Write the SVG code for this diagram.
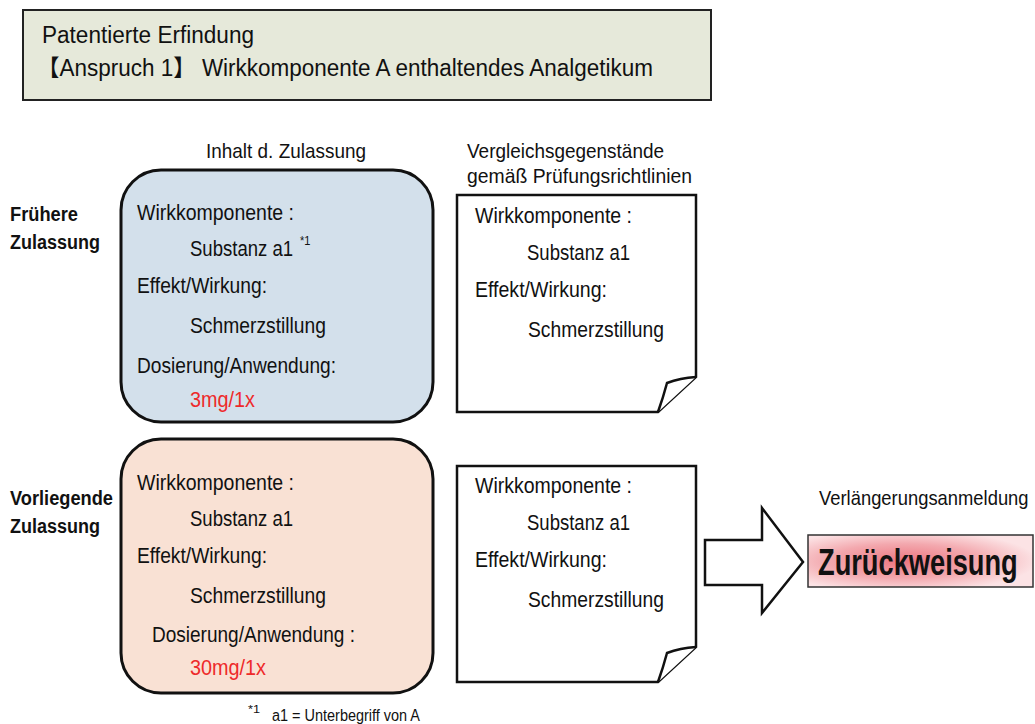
<svg xmlns="http://www.w3.org/2000/svg" width="1035" height="724" viewBox="0 0 1035 724">
<style>
text{font-family:"Liberation Sans","Noto Sans CJK JP",sans-serif;fill:#111;}
.t{font-size:22.5px;}
.h{font-size:21px;}
.b{font-size:20px;font-weight:bold;}
.red{fill:#ee2a2a;}
.box{stroke:#111;stroke-width:3;}
.doc{fill:#fff;stroke:#111;stroke-width:2.5;stroke-linejoin:miter;}
</style>
<defs>
<radialGradient id="rg" cx="0.42" cy="0.5" r="0.6">
<stop offset="0" stop-color="#ec7680"/>
<stop offset="0.55" stop-color="#f3a8ae"/>
<stop offset="1" stop-color="#fce3e5"/>
</radialGradient>
</defs>
<g id="title">
<rect x="23" y="10" width="688" height="90" fill="#e6e9da" stroke="#222" stroke-width="2"/>
<text x="42" y="43" font-size="23" textLength="212" lengthAdjust="spacingAndGlyphs">Patentierte Erfindung</text>
<text x="37" y="76" font-size="23" textLength="616" lengthAdjust="spacingAndGlyphs">【Anspruch 1】 Wirkkomponente A enthaltendes Analgetikum</text>
</g>
<g id="headers">
<text class="h" x="206" y="158" textLength="160" lengthAdjust="spacingAndGlyphs">Inhalt d. Zulassung</text>
<text class="h" x="467" y="158" textLength="197" lengthAdjust="spacingAndGlyphs">Vergleichsgegenstände</text>
<text class="h" x="467" y="183" textLength="225" lengthAdjust="spacingAndGlyphs">gemäß Prüfungsrichtlinien</text>
</g>
<g id="row-labels">
<text class="b" x="10" y="221" textLength="68" lengthAdjust="spacingAndGlyphs">Frühere</text>
<text class="b" x="10" y="249" textLength="90" lengthAdjust="spacingAndGlyphs">Zulassung</text>
<text class="b" x="10" y="505" textLength="103" lengthAdjust="spacingAndGlyphs">Vorliegende</text>
<text class="b" x="10" y="533" textLength="90" lengthAdjust="spacingAndGlyphs">Zulassung</text>
</g>
<g id="prior-approval">
<rect class="box" x="121" y="170" width="312" height="252" rx="40" fill="#d3e0eb"/>
<text class="t" x="137" y="220" textLength="157" lengthAdjust="spacingAndGlyphs">Wirkkomponente :</text>
<text class="t" transform="translate(190,256) scale(0.824,1)" x="0" y="0">Substanz a1</text>
<text transform="translate(300,245) scale(0.85,1)" x="0" y="0" font-size="13">*1</text>
<text class="t" x="137" y="293" textLength="130" lengthAdjust="spacingAndGlyphs">Effekt/Wirkung:</text>
<text class="t" x="190" y="333" textLength="136" lengthAdjust="spacingAndGlyphs">Schmerzstillung</text>
<text class="t" x="137" y="373" textLength="199" lengthAdjust="spacingAndGlyphs">Dosierung/Anwendung:</text>
<text class="t red" x="190" y="407" textLength="65" lengthAdjust="spacingAndGlyphs">3mg/1x</text>
</g>
<g id="present-approval">
<rect class="box" x="121" y="439" width="312" height="254" rx="40" fill="#f9e1d4"/>
<text class="t" x="137" y="490" textLength="157" lengthAdjust="spacingAndGlyphs">Wirkkomponente :</text>
<text class="t" x="190" y="526" textLength="103" lengthAdjust="spacingAndGlyphs">Substanz a1</text>
<text class="t" x="137" y="563" textLength="130" lengthAdjust="spacingAndGlyphs">Effekt/Wirkung:</text>
<text class="t" x="190" y="603" textLength="136" lengthAdjust="spacingAndGlyphs">Schmerzstillung</text>
<text class="t" x="152" y="642" textLength="203" lengthAdjust="spacingAndGlyphs">Dosierung/Anwendung :</text>
<text class="t red" x="190" y="675" textLength="76" lengthAdjust="spacingAndGlyphs">30mg/1x</text>
</g>
<g id="footnote">
<text x="248" y="713" font-size="11" textLength="12" lengthAdjust="spacingAndGlyphs">*1</text>
<text x="272" y="721" font-size="16" textLength="148" lengthAdjust="spacingAndGlyphs">a1 = Unterbegriff von A</text>
</g>
<g id="doc-prior">
<path class="doc" d="M457,195 H696 V377 L658,412 H457 Z"/>
<path class="doc" d="M696,377 Q680,378 667,383 Q663,398 658,412"/>
<text class="t" x="475" y="223" textLength="157" lengthAdjust="spacingAndGlyphs">Wirkkomponente :</text>
<text class="t" x="527" y="260" textLength="103" lengthAdjust="spacingAndGlyphs">Substanz a1</text>
<text class="t" x="475" y="297" textLength="132" lengthAdjust="spacingAndGlyphs">Effekt/Wirkung:</text>
<text class="t" x="528" y="337" textLength="136" lengthAdjust="spacingAndGlyphs">Schmerzstillung</text>
</g>
<g id="doc-present">
<path class="doc" d="M457,466 H696 V647 L658,682 H457 Z"/>
<path class="doc" d="M696,647 Q680,648 667,653 Q663,668 658,682"/>
<text class="t" x="475" y="493" textLength="157" lengthAdjust="spacingAndGlyphs">Wirkkomponente :</text>
<text class="t" x="527" y="530" textLength="103" lengthAdjust="spacingAndGlyphs">Substanz a1</text>
<text class="t" x="475" y="567" textLength="132" lengthAdjust="spacingAndGlyphs">Effekt/Wirkung:</text>
<text class="t" x="528" y="607" textLength="136" lengthAdjust="spacingAndGlyphs">Schmerzstillung</text>
</g>
<g id="connectors">
<path d="M705,540 H762 V508 L803,562 L762,613 V585 H705 Z" fill="#fff" stroke="#111" stroke-width="2.5" stroke-linejoin="miter"/>
</g>
<g id="result">
<text transform="translate(819,505) scale(0.92,1)" x="0" y="0" font-size="20">Verlängerungsanmeldung</text>
<rect x="808" y="535" width="225" height="52" fill="url(#rg)" stroke="#333" stroke-width="1.5"/>
<text transform="translate(818,575) scale(0.757,1)" x="0" y="0" font-size="36" font-weight="bold">Zurückweisung</text>
</g>
</svg>
